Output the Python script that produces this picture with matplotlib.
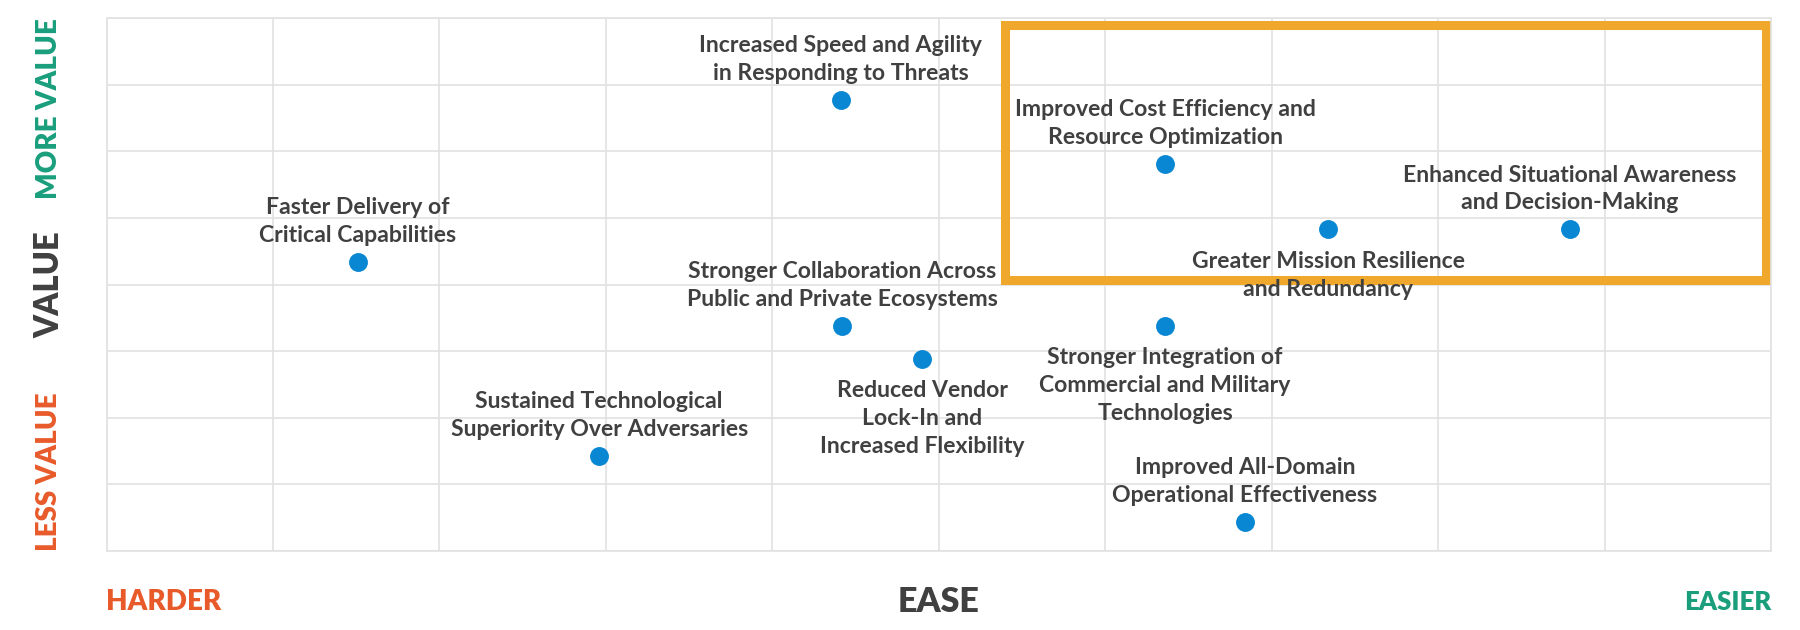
import matplotlib
matplotlib.use("Agg")
import matplotlib.pyplot as plt
from matplotlib.patches import Rectangle

# ---- data ----
labels = [
    "Increased Speed and Agility\nin Responding to Threats",
    "Improved Cost Efficiency and\nResource Optimization",
    "Enhanced Situational Awareness\nand Decision-Making",
    "Greater Mission Resilience\nand Redundancy",
    "Faster Delivery of\nCritical Capabilities",
    "Stronger Collaboration Across\nPublic and Private Ecosystems",
    "Reduced Vendor\nLock-In and\nIncreased Flexibility",
    "Stronger Integration of\nCommercial and Military\nTechnologies",
    "Sustained Technological\nSuperiority Over Adversaries",
    "Improved All-Domain\nOperational Effectiveness",
]
ease = [4.41, 6.36, 8.79, 7.34, 1.51, 4.42, 4.90, 6.36, 2.96, 6.84]
value = [6.77, 5.81, 4.83, 4.83, 4.34, 3.38, 2.89, 3.38, 1.43, 0.44]
label_side = ["above", "above", "above", "below", "above",
              "above", "below", "below", "above", "above"]

x_range = [0, 10]
y_range = [0, 8]
highlight_x = [5.40, 9.97]
highlight_y = [4.07, 7.90]

# ---- style ----
FONT = ["Lato", "DejaVu Sans"]
TEXT = "#404041"
GREEN = "#1a9e7c"
ORANGE = "#e85a2a"
BOX = "#f0a82c"
DOT = "#0a87d2"
GRID = "#e2e2e2"

fig = plt.figure(figsize=(18, 6.3), dpi=100)
L, R, T, B = 106.5, 1771, 18.3, 551
ax = fig.add_axes([L / 1800, 1 - B / 630, (R - L) / 1800, (B - T) / 630])
ax.set_xlim(*x_range)
ax.set_ylim(*y_range)
ax.set_xticks(range(x_range[0], x_range[1] + 1))
ax.set_yticks(range(y_range[0], y_range[1] + 1))
ax.tick_params(length=0, labelbottom=False, labelleft=False)
ax.grid(True, color=GRID, linewidth=1.2, zorder=0)
for s in ax.spines.values():
    s.set_color(GRID)
    s.set_linewidth(1.2)
ax.set_axisbelow(True)

ax.add_patch(Rectangle((highlight_x[0], highlight_y[0]),
                       highlight_x[1] - highlight_x[0],
                       highlight_y[1] - highlight_y[0],
                       fill=False, edgecolor=BOX, linewidth=6.5,
                       joinstyle="miter", zorder=2))

ax.scatter(ease, value, s=185, color=DOT, zorder=4, linewidths=0)

for lab, x, y, side in zip(labels, ease, value, label_side):
    if side == "above":
        off, va = 11.5, "bottom"
    else:
        off, va = -15.5, "top"
    ax.annotate(lab, (x, y), xytext=(0, off), textcoords="offset points",
                ha="center", va=va, fontsize=16.6, fontweight="bold",
                family=FONT, color=TEXT, linespacing=1.4, zorder=5)

# axis captions
fig.text(49 / 1800, 1 - T / 630, "MORE VALUE", rotation=90, ha="center", va="top",
         fontsize=20, fontweight="heavy", family=FONT, color=GREEN)
fig.text(49 / 1800, 1 - (T + B) / 2 / 630, "VALUE", rotation=90, ha="center", va="center",
         fontsize=23.5, fontweight="heavy", family=FONT, color=TEXT)
fig.text(49 / 1800, 1 - B / 630, "LESS VALUE", rotation=90, ha="center", va="bottom",
         fontsize=20, fontweight="heavy", family=FONT, color=ORANGE)

fig.text(L / 1800, 1 - 602 / 630, "HARDER", ha="left", va="center",
         fontsize=20, fontweight="heavy", family=FONT, color=ORANGE)
fig.text((L + R) / 2 / 1800, 1 - 602 / 630, "EASE", ha="center", va="center",
         fontsize=24.5, fontweight="heavy", family=FONT, color=TEXT)
fig.text(R / 1800, 1 - 602 / 630, "EASIER", ha="right", va="center",
         fontsize=18.5, fontweight="heavy", family=FONT, color=GREEN)

fig.savefig("out.png", dpi=100, facecolor="white")
